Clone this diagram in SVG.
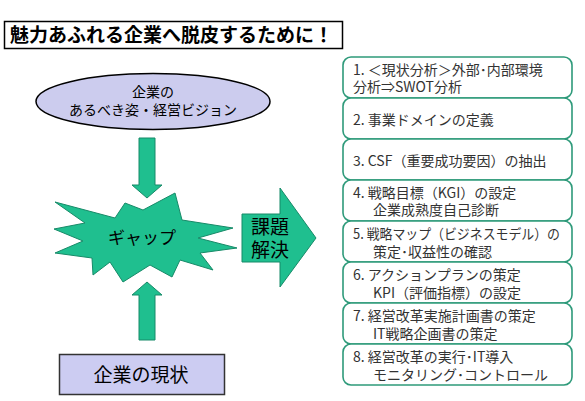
<svg xmlns="http://www.w3.org/2000/svg" width="585" height="401" viewBox="0 0 585 401">
<style>
text{font-family:"Noto Sans CJK JP","Noto Sans",sans-serif;}
.g{fill:#1fbf8f;stroke:#178a68;stroke-width:1;}
.box{fill:#ffffff;stroke:#2e9a7a;stroke-width:1.6;}
.bt{font-size:14px;fill:#333333;}
</style>
<rect width="585" height="401" fill="#ffffff"/>
<g id="title">
<rect x="4.5" y="21.5" width="338" height="27" fill="#ffffff" stroke="#000000" stroke-width="1.5"/>
<text x="10" y="42" font-size="19" font-weight="bold" fill="#000000">魅力あふれる企業へ脱皮するために！</text>
</g>
<g id="vision">
<ellipse cx="153" cy="101.5" rx="117" ry="28" fill="#ccccee" stroke="#000000" stroke-width="1.5"/>
<text x="153" y="97" font-size="14" text-anchor="middle" fill="#000000">企業の</text>
<text x="153" y="115" font-size="14" text-anchor="middle" fill="#000000">あるべき姿・経営ビジョン</text>
</g>
<g id="gap">
<polygon class="g" points="55,202 115,218 125,203 143,210 175,193 182,220 233,228 198,238 237,248 200,253 213,270 180,260 172,277 150,265 123,282 110,262 93,275 92,258 55,253 83,241 54,229 85,223"/>
<text x="142" y="244" font-size="17" text-anchor="middle" fill="#000000">ギャップ</text>
</g>
<g id="current">
<rect x="59.5" y="354.5" width="165" height="40" fill="#ccccf2" stroke="#333333" stroke-width="1.5"/>
<text x="141" y="382" font-size="19" text-anchor="middle" fill="#000000">企業の現状</text>
</g>
<g id="solve">
<polygon class="g" points="242,214 280,214 280,188 316,238 280,287 280,262 242,262"/>
<text x="270" y="234" font-size="19" text-anchor="middle" fill="#000000">課題</text>
<text x="270" y="257" font-size="19" text-anchor="middle" fill="#000000">解決</text>
</g>
<g id="connectors">
<polygon class="g" points="139,138 155,138 155,185 162,185 147,198 132,185 139,185"/>
<polygon class="g" points="147,282 162,295 155,295 155,340 139,340 139,295 132,295"/>
</g>
<g id="step1"><rect class="box" x="343" y="57" width="229" height="41" rx="8"/>
<text class="bt" x="353" y="75">1. ＜現状分析＞外部･内部環境</text>
<text class="bt" x="353" y="92">分析⇒SWOT分析</text></g>
<g id="step2"><rect class="box" x="343" y="98" width="229" height="41" rx="8"/>
<text class="bt" x="353" y="125">2. 事業ドメインの定義</text></g>
<g id="step3"><rect class="box" x="343" y="139" width="229" height="41" rx="8"/>
<text class="bt" x="353" y="166">3. CSF（重要成功要因）の抽出</text></g>
<g id="step4"><rect class="box" x="343" y="180" width="229" height="41" rx="8"/>
<text class="bt" x="353" y="198">4. 戦略目標（KGI）の設定</text>
<text class="bt" x="373" y="215">企業成熟度自己診断</text></g>
<g id="step5"><rect class="box" x="343" y="221" width="229" height="41" rx="8"/>
<text class="bt" x="353" y="239" textLength="207" lengthAdjust="spacingAndGlyphs">5. 戦略マップ（ビジネスモデル）の</text>
<text class="bt" x="373" y="257">策定･収益性の確認</text></g>
<g id="step6"><rect class="box" x="343" y="262" width="229" height="41" rx="8"/>
<text class="bt" x="353" y="280">6. アクションプランの策定</text>
<text class="bt" x="373" y="298">KPI（評価指標）の設定</text></g>
<g id="step7"><rect class="box" x="343" y="303" width="229" height="41" rx="8"/>
<text class="bt" x="353" y="321">7. 経営改革実施計画書の策定</text>
<text class="bt" x="373" y="339">IT戦略企画書の策定</text></g>
<g id="step8"><rect class="box" x="343" y="344" width="229" height="41" rx="8"/>
<text class="bt" x="353" y="362">8. 経営改革の実行･IT導入</text>
<text class="bt" x="373" y="380">モニタリング･コントロール</text></g>
</svg>
